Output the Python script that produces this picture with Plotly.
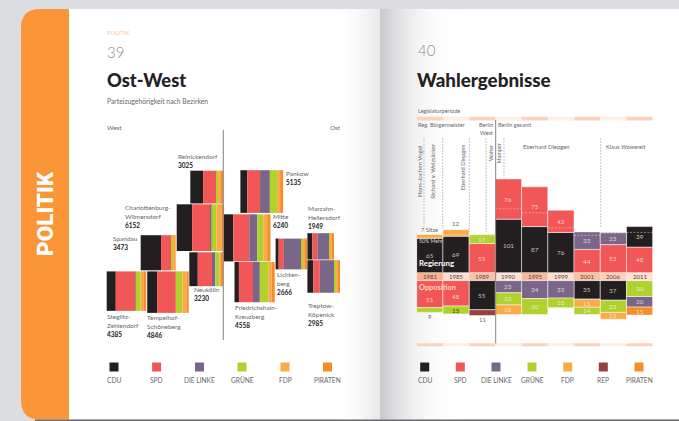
import math
import plotly.graph_objects as go

# ---------- data: left chart ----------
parties_left = ["CDU", "SPD", "DIE LINKE", "GRÜNE", "FDP", "PIRATEN"]
districts = ["Reinickendorf", "Charlottenburg-<br>Wilmersdorf", "Spandau", "Steglitz-<br>Zehlendorf",
             "Tempelhof-<br>Schöneberg", "Neukölln", "Pankow", "Mitte", "Friedrichshain-<br>Kreuzberg",
             "Lichten-<br>berg", "Marzahn-<br>Hellersdorf", "Treptow-<br>Köpenick"]
totals = [3025, 6152, 3473, 4385, 4846, 3230, 5135, 6240, 4558, 2666, 1949, 2985]
cdu_share = [39, 33, 58, 23, 24, 25, 16, 21, 11, 10, 19, 18]
spd_share = [40, 39, 30, 49, 45, 42, 30, 34, 35, 17, 19, 20]
linke_share = [2, 2, 0, 1, 0, 10, 23, 17, 17, 58, 47, 45]
gruene_share = [4, 11, 3, 13, 16, 12, 17, 13, 21, 3, 4, 5]
fdp_share = [11, 13, 9, 10, 10, 7, 7, 8, 8, 8, 7, 8]
piraten_share = [4, 2, 0, 4, 5, 4, 7, 7, 8, 4, 4, 4]

# ---------- data: right chart ----------
years = ["1981", "1985", "1989", "1990", "1995", "1999", "2001", "2006", "2011"]
gov_parties = [["CDU", "FDP"], ["CDU", "FDP"], ["SPD", "GRÜNE"], ["CDU", "SPD"], ["CDU", "SPD"],
               ["CDU", "SPD"], ["SPD", "DIE LINKE"], ["SPD", "DIE LINKE"], ["SPD", "CDU"]]
gov_seats = [[65, 7], [69, 12], [55, 17], [101, 76], [87, 75], [76, 42], [44, 33], [53, 23], [48, 39]]
opp_parties = [["SPD", "GRÜNE"], ["SPD", "GRÜNE"], ["CDU", "REP"], ["DIE LINKE", "GRÜNE", "FDP"],
               ["DIE LINKE", "GRÜNE"], ["DIE LINKE", "GRÜNE"], ["CDU", "FDP", "GRÜNE"],
               ["CDU", "GRÜNE", "FDP"], ["GRÜNE", "DIE LINKE", "PIRATEN"]]
opp_seats = [[51, 9], [48, 15], [55, 11], [23, 23, 18], [34, 30], [33, 18], [35, 15, 14], [37, 23, 13], [30, 20, 15]]
parties_right = ["CDU", "SPD", "DIE LINKE", "GRÜNE", "FDP", "REP", "PIRATEN"]

# ---------- styles and placement ----------
W, H = 679, 421
FONT = "Lato"
INK = "#67676b"
DARK = "#232123"
COL = {"CDU": "#231f20", "SPD": "#f25757", "DIE LINKE": "#7a6689", "GRÜNE": "#b1d22e",
       "FDP": "#fbaa45", "REP": "#96403f", "PIRATEN": "#f88c28"}
block_left = [190.3, 176.7, 140.7, 106.7, 147.2, 189.3, 240.4, 223.4, 234.5, 275.6, 307.4, 307.4]
block_top = [170.7, 204.3, 235.2, 271.4, 271.4, 252.3, 170.2, 214.3, 262.0, 238.6, 233.2, 260.2]
AREA = 0.355
label_xy = [(176.5, 156.2), (124.2, 207.5), (111.5, 238.8), (106.2, 316.5), (146.2, 317.2), (192.5, 289.5),
            (284.5, 173.8), (271.8, 216.2), (233.8, 307.2), (275.5, 274.5), (307.2, 208.2), (307.2, 305.2)]
LINE_STEP = 9
X0, X1 = 416.7, 652.7
PX_SEAT = 0.53
BASE_UP, BASE_DN = 272.7, 280.6
label_nudge = {("1981", "SPD"): 11, ("1985", "SPD"): 6}

fig = go.Figure()
shapes, notes = [], []


def T(x, y, text, size=5.8, color=INK, anchor="left", bold=False, angle=0, xref="x", yref="y", weight=None, family=FONT):
    notes.append(dict(x=x, y=y, xref=xref, yref=yref, text=text, showarrow=False, xanchor=anchor, yanchor="middle",
                      textangle=angle, borderpad=0,
                      font=dict(family=family, size=size, color=color, weight=weight or (700 if bold else 400))))


def R(x0, y0, x1, y1, fill, layer="below", xref="x", yref="y"):
    shapes.append(dict(type="rect", x0=x0, y0=y0, x1=x1, y1=y1, xref=xref, yref=yref, fillcolor=fill,
                       line=dict(width=0), layer=layer))


def L(x0, y0, x1, y1, color, width=1.0, dash="solid", xref="x", yref="y"):
    shapes.append(dict(type="line", x0=x0, y0=y0, x1=x1, y1=y1, xref=xref, yref=yref,
                       line=dict(color=color, width=width, dash=dash), layer="above"))


# ---------- page ----------
R(40, 9, W, 419.5, "#ffffff")
shapes.append(dict(type="path", xref="x", yref="y", layer="below", fillcolor="#fa9638", line=dict(width=0),
                   path="M69,9 L40,9 Q21,9 21,28 L21,400 Q21,419.5 40,419.5 L69,419.5 Z"))
for px in range(340, 380):
    g = int(255 - (px - 340) ** 1.6 / 39 ** 1.6 * 22)
    R(px, 9, px + 1, 419.5, f"rgb({g},{g},{g})")
for px in range(380, 460):
    t = ((460 - px) / 80) ** 2.4
    R(px, 9, px + 1, 419.5, f"rgb({int(255 - t * 55)},{int(255 - t * 54)},{int(255 - t * 51)})")
R(35, 419.5, W, H, "#6a6a6c")
T(45, 214, "POLITIK", size=22.5, color="#ffffff", anchor="center", angle=-90, weight=900, family="Roboto")

# ---------- titles ----------
T(106, 32, "POLITIK", size=6, color="#fbc89a")
T(106.3, 51.5, "39", size=15, color="#8f8f93", weight=300)
T(105.8, 79.5, "Ost-West", size=18.3, color=DARK, weight=900)
T(106.3, 101, "Parteizugehörigkeit nach Bezirken", size=6.8)
T(106.3, 127.5, "West", size=6.3)
T(342, 127.5, "Ost", size=6.3, anchor="right")
T(416.5, 49.5, "40", size=15, color="#8f8f93", weight=300)
T(416, 79.5, "Wahlergebnisse", size=18.8, color=DARK, weight=900)
T(416.5, 110.5, "Legislaturperiode", size=5.6)

# ---------- left chart ----------
sides = [math.sqrt(t * AREA) for t in totals]
shares = [cdu_share, spd_share, linke_share, gruene_share, fdp_share, piraten_share]
cum = [0.0] * len(totals)
for party, share in zip(parties_left, shares):
    widths = [s * v / 100 for s, v in zip(sides, share)]
    fig.add_trace(go.Bar(orientation="h", x=widths, y=[t + s / 2 for t, s in zip(block_top, sides)],
                         width=sides, base=[l + c for l, c in zip(block_left, cum)],
                         marker=dict(color=COL[party], line=dict(width=0)), name=party, showlegend=False,
                         xaxis="x", yaxis="y"))
    cum = [c + w for c, w in zip(cum, widths)]
L(223.3, 130, 223.3, 340, "#8b8b8b", 1.1)
for name, total, (lx, ly) in zip(districts, totals, label_xy):
    lines = name.split("<br>")
    for k, txt in enumerate(lines):
        T(lx, ly + k * LINE_STEP, txt, size=6.5)
    T(lx, ly + len(lines) * LINE_STEP, str(total), size=6.5, color=DARK, bold=True)

# ---------- right chart ----------
for i in range(len(years)):
    strong = i % 2 == 0
    band = "#fbd3bd" if strong else "#fdeee6"
    R(i - .5, 116.8, i + .5, 120.6, band, "above", xref="x2")
    R(i - .5, 343.3, i + .5, 346.3, band, "above", xref="x2")
    yb = ["#fab28f", "#fde0d1", "#fbc3a6", "#fde3d6", "#fbb999", "#fde0d1", "#fbc3a6", "#fcd0b8", "#fde3d6"][i]
    R(i - .5, BASE_UP + .3, i + .5, BASE_DN - .3, yb, "above", xref="x2")
    T(i, (BASE_UP + BASE_DN) / 2 - .2, years[i], size=6, color="#4a4548", anchor="center", xref="x2")


def draw_stacks(parties, seats, xa, ya):
    rows = {p: dict(x=[], y=[], base=[]) for p in parties_right}
    for i, (ps, ss) in enumerate(zip(parties, seats)):
        b = 0
        for p, s in zip(ps, ss):
            rows[p]["x"].append(i)
            rows[p]["y"].append(s)
            rows[p]["base"].append(b)
            if s > 12:
                c = "#3a3a20" if (years[i] == "1985" and p == "GRÜNE") else "rgba(255,255,255,0.72)"
                T(i, b + s / 2 + label_nudge.get((years[i], p), 0) * (ya == "y3"), str(s), size=6.3, color=c,
                  anchor="center", xref=xa, yref=ya)
            b += s
    for p in parties_right:
        if rows[p]["x"]:
            fig.add_trace(go.Bar(x=rows[p]["x"], y=rows[p]["y"], base=rows[p]["base"], width=1,
                                 marker=dict(color=COL[p], line=dict(color="#ffffff", width=0.5)),
                                 name=p, showlegend=False, xaxis=xa, yaxis=ya))


draw_stacks(gov_parties, gov_seats, "x2", "y2")
draw_stacks(opp_parties, opp_seats, "x3", "y3")

# 50 % majority line: half of all seats of that year
for i in range(len(years)):
    half = (sum(gov_seats[i]) + sum(opp_seats[i])) / 2
    fig.add_trace(go.Scatter(x=[i - .5, i + .5], y=[half, half], mode="lines", showlegend=False,
                             line=dict(color="rgba(255,225,215,0.6)", width=0.8, dash="2px,1.5px"),
                             xaxis="x2", yaxis="y2"))

# outer seat counts
T(0, 229.5, "7 Sitze", size=5.8, anchor="center", xref="x2")
T(1, 223.8, "12", size=6.2, anchor="center", xref="x2")
T(0, 316.2, "9", size=6, anchor="center", xref="x2")
T(2, 319.5, "11", size=6, anchor="center", xref="x2")

# chart captions
T(418, 241, "50% Mehr", size=5.2, color="#d8d8d8")
T(418, 263, "Regierung", size=7.8, color="#ffffff", bold=True)
T(417.5, 287, "Opposition", size=7.4, color="#fdd8bd", bold=True)
T(416.5, 124.5, "Reg. Bürgermeister", size=5.6)
T(494, 124.5, "Berlin", size=5.6, anchor="right")
T(494, 132, "West", size=5.6, anchor="right")
T(497.2, 124.5, "Berlin gesamt", size=5.6)
T(522, 146.5, "Eberhard Diepgen", size=5.9)
T(604.5, 146.5, "Klaus Wowereit", size=5.7)
T(419.5, 171.5, "Hans-Jochen Vogel", size=6.2, anchor="center", angle=-90)
T(431.7, 171, "Richard v. Weizsäcker", size=5.8, anchor="center", angle=-90)
T(462.3, 167, "Eberhard Diepgen", size=5.8, anchor="center", angle=-90)
T(491, 153, "Walter", size=5.4, anchor="center", angle=-90)
T(498.5, 154, "Momper", size=5.4, anchor="center", angle=-90)
L(495.7, 120, 495.7, 343.5, "#77777b", 0.9)
for vx, vy0, vy1 in [(424, 138, 227), (442.7, 138, 229), (469.3, 138, 232), (486, 138, 232),
                     (504, 138, 178), (600.7, 138, 228)]:
    L(vx, vy0, vx, vy1, "#b0b0b4", 0.7, "2px,1px")

# ---------- legends ----------
leg_left_x = [114, 156.6, 199.5, 242, 285, 327.5]
leg_right_x = [424.7, 460.3, 496, 532, 567.7, 603.3, 639]
for names, xs in [(parties_left, leg_left_x), (parties_right, leg_right_x)]:
    for p, x in zip(names, xs):
        fig.add_trace(go.Scatter(x=[x], y=[367], mode="markers", showlegend=False,
                                 marker=dict(symbol="square", size=9, color=COL[p], line=dict(width=0)),
                                 xaxis="x", yaxis="y"))
        T(x, 380, p, size=6.6, anchor="center")

hidden = dict(visible=False, fixedrange=True)
fig.update_layout(
    width=W, height=H, autosize=False, margin=dict(l=0, r=0, t=0, b=0), showlegend=False,
    paper_bgcolor="#dcdde0", plot_bgcolor="rgba(0,0,0,0)", barmode="overlay", hovermode=False,
    font=dict(family=FONT),
    shapes=shapes, annotations=notes,
    xaxis=dict(range=[0, W], domain=[0, 1], anchor="y", **hidden),
    yaxis=dict(range=[H, 0], domain=[0, 1], anchor="x", **hidden),
    xaxis2=dict(range=[-.5, 8.5], domain=[X0 / W, X1 / W], anchor="y2", **hidden),
    yaxis2=dict(range=[0, (BASE_UP - 100) / PX_SEAT], domain=[1 - BASE_UP / H, 1 - 100 / H], anchor="x2", **hidden),
    xaxis3=dict(range=[-.5, 8.5], domain=[X0 / W, X1 / W], anchor="y3", **hidden),
    yaxis3=dict(range=[(400 - BASE_DN) / PX_SEAT, 0], domain=[1 - 400 / H, 1 - BASE_DN / H], anchor="x3", **hidden),
)
fig.write_html("out.html", config=dict(displayModeBar=False),
               post_script="document.body.style.margin='0';document.body.style.overflow='hidden';")
